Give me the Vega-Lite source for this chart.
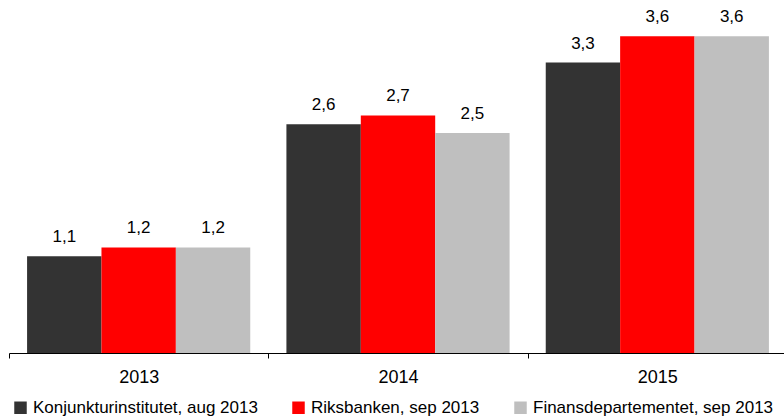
{
  "$schema": "https://vega.github.io/schema/vega-lite/v6.json",
  "width": 778,
  "height": 352,
  "autosize": {"type": "none"},
  "padding": {"left": 9, "top": 1, "right": 0, "bottom": 63},
  "data": {
    "values": [
      {"year": "2013", "series": "Konjunkturinstitutet, aug 2013", "value": 1.1},
      {"year": "2013", "series": "Riksbanken, sep 2013", "value": 1.2},
      {"year": "2013", "series": "Finansdepartementet, sep 2013", "value": 1.2},
      {"year": "2014", "series": "Konjunkturinstitutet, aug 2013", "value": 2.6},
      {"year": "2014", "series": "Riksbanken, sep 2013", "value": 2.7},
      {"year": "2014", "series": "Finansdepartementet, sep 2013", "value": 2.5},
      {"year": "2015", "series": "Konjunkturinstitutet, aug 2013", "value": 3.3},
      {"year": "2015", "series": "Riksbanken, sep 2013", "value": 3.6},
      {"year": "2015", "series": "Finansdepartementet, sep 2013", "value": 3.6}
    ]
  },
  "encoding": {
    "x": {
      "field": "year", "type": "nominal",
      "scale": {"paddingInner": 0, "paddingOuter": 0},
      "axis": {
        "title": null, "labelAngle": 0, "tickBand": "extent", "tickSize": 5,
        "domainColor": "#000000", "tickColor": "#000000", "labelColor": "#000000",
        "labelFontSize": 18, "labelPadding": 10, "grid": false
      }
    },
    "xOffset": {
      "field": "series", "type": "nominal",
      "sort": ["Konjunkturinstitutet, aug 2013", "Riksbanken, sep 2013", "Finansdepartementet, sep 2013"],
      "scale": {"paddingInner": 0, "paddingOuter": 0.243}
    },
    "y": {
      "field": "value", "type": "quantitative",
      "scale": {"domain": [0, 4], "nice": false},
      "axis": null
    }
  },
  "layer": [
    {
      "mark": {"type": "bar"},
      "encoding": {
        "color": {
          "field": "series", "type": "nominal",
          "scale": {
            "domain": ["Konjunkturinstitutet, aug 2013", "Riksbanken, sep 2013", "Finansdepartementet, sep 2013"],
            "range": ["#333333", "#FF0000", "#BFBFBF"]
          },
          "legend": {
            "title": null, "orient": "none", "legendX": 3, "legendY": 398,
            "direction": "horizontal", "symbolType": "square", "symbolSize": 156,
            "symbolStrokeWidth": 0, "labelFontSize": 17, "labelColor": "#000000",
            "labelOffset": 4, "columnPadding": 32, "padding": 0, "labelLimit": 400
          }
        }
      }
    },
    {
      "mark": {"type": "text", "baseline": "bottom", "dy": -10, "fontSize": 17, "color": "#000000"},
      "encoding": {
        "text": {"field": "value", "type": "quantitative", "format": ".1f"}
      }
    }
  ],
  "config": {
    "font": "Liberation Sans",
    "view": {"stroke": null},
    "locale": {"number": {"decimal": ",", "thousands": " ", "grouping": [3], "currency": ["", " kr"]}}
  }
}
